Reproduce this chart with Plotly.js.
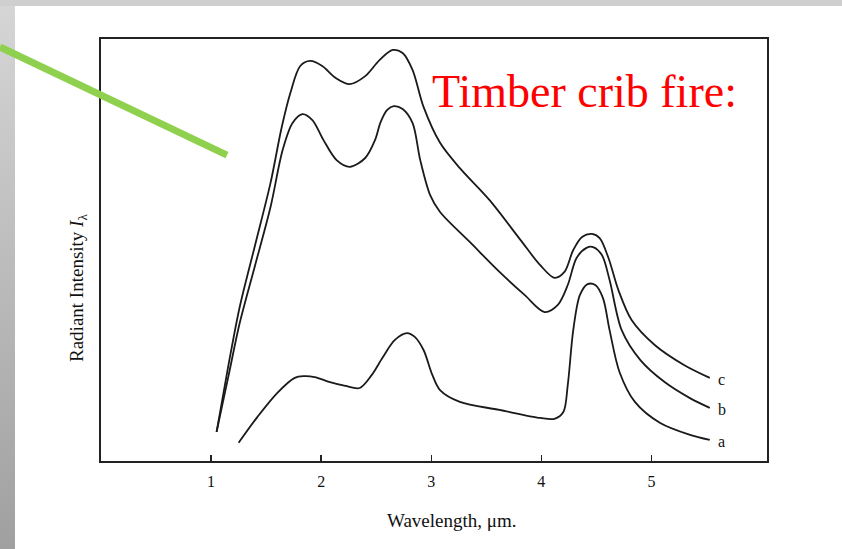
<!DOCTYPE html>
<html>
<head>
<meta charset="utf-8">
<script src="https://cdn.plot.ly/plotly-3.0.1.min.js"></script>
<style>
  html, body { margin: 0; padding: 0; background: #ffffff; }
  #wrap { position: relative; width: 842px; height: 549px; background: #ffffff; overflow: hidden; }
  #leftbar { position: absolute; left: 0; top: 0; width: 15px; height: 549px;
             background: linear-gradient(to bottom, #d6d6d6, #a0a0a0); }
  #topbar { position: absolute; left: 0; top: 0; width: 842px; height: 6px; background: #cfcfcf; }
  #chart { position: absolute; left: 0; top: 0; width: 842px; height: 549px; }
</style>
</head>
<body>
<div id="wrap">
  <div id="leftbar"></div>
  <div id="topbar"></div>
  <div id="chart"></div>
</div>
<script>
// Wavelength (µm) and relative radiant intensity
const cWave = [1.05,1.15,1.26,1.40,1.54,1.64,1.72,1.81,1.90,2.01,2.13,2.26,2.40,2.53,2.65,2.74,2.83,2.93,3.08,3.26,3.53,3.81,3.99,4.12,4.21,4.29,4.37,4.46,4.53,4.61,4.70,4.82,5.03,5.30,5.53];
const cInt  = [6.9,21.6,36.5,51.2,65.9,78.9,87.2,93.6,94.8,93.6,90.8,89.3,91.2,95.0,97.4,96.7,92.7,83.9,75.4,69.4,61.8,52.4,46.4,43.4,44.8,50.0,53.1,53.8,52.8,48.1,40.5,33.4,27.5,22.7,19.7];

const bWave = [1.05,1.16,1.26,1.40,1.54,1.65,1.74,1.83,1.92,2.02,2.14,2.26,2.40,2.49,2.54,2.60,2.66,2.74,2.83,2.90,2.99,3.08,3.35,3.62,3.85,4.03,4.15,4.24,4.32,4.41,4.47,4.55,4.62,4.73,4.90,5.12,5.35,5.53];
const bInt  = [6.9,20.4,32.7,46.4,60.2,73.7,80.1,82.2,80.8,76.1,71.3,69.7,71.8,76.1,80.3,83.2,84.1,83.4,80.1,71.3,63.0,59.0,51.9,44.8,39.3,35.3,37.0,41.7,48.1,50.5,50.7,48.8,42.9,31.0,23.9,18.7,14.9,12.6];

const aWave = [1.25,1.42,1.60,1.76,1.84,1.94,2.08,2.22,2.35,2.46,2.56,2.67,2.78,2.85,2.93,3.01,3.08,3.26,3.62,3.99,4.12,4.20,4.24,4.29,4.35,4.42,4.49,4.56,4.62,4.71,4.85,5.08,5.35,5.53];
const aInt  = [4.3,10.4,16.1,19.7,20.1,19.9,18.7,17.8,17.3,20.4,24.6,28.7,30.3,29.4,26.3,20.4,16.8,14.0,12.1,10.2,10.0,11.6,18.0,31.0,39.3,41.9,41.7,38.6,31.0,21.1,14.0,9.0,6.2,5.0];

const curveLabels = ['c','b','a'];
const xTickVals = [1,2,3,4,5];
const xTickText = ['1','2','3','4','5'];

const serif = '"Liberation Serif", "Times New Roman", serif';
const lineStyle = {color: '#1a1a1a', width: 1.8, shape: 'spline', smoothing: 0.9};

const series = [[cWave,cInt],[bWave,bInt],[aWave,aInt]];
const traces = series.map((s, i) => ({
  x: s[0], y: s[1], type: 'scatter', mode: 'lines', line: lineStyle,
  name: curveLabels[i], showlegend: false, hoverinfo: 'skip'
}));

const labelAnn = series.map((s, i) => ({
  x: s[0][s[0].length-1], y: s[1][s[1].length-1], xref: 'x', yref: 'y',
  text: curveLabels[i], showarrow: false, xanchor: 'left', yanchor: 'middle', xshift: 6, yshift: -2,
  font: {family: serif, size: 16, color: '#111'}
}));

const layout = {
  width: 842, height: 549,
  margin: {l: 101, r: 75, t: 39, b: 88},
  paper_bgcolor: 'rgba(0,0,0,0)', plot_bgcolor: 'rgba(0,0,0,0)',
  xaxis: {
    range: [0, 6.05], showgrid: false, zeroline: false,
    showline: true, mirror: true, linecolor: '#222', linewidth: 2,
    tickmode: 'array', tickvals: xTickVals, ticktext: xTickText,
    ticks: 'inside', ticklen: 6, tickcolor: '#222', tickwidth: 1.5,
    ticklabelstandoff: 5,
    tickfont: {family: serif, size: 16, color: '#111'}
  },
  yaxis: {
    range: [0, 100], showgrid: false, zeroline: false,
    showline: true, mirror: true, linecolor: '#222', linewidth: 2,
    showticklabels: false, ticks: ''
  },
  shapes: [{
    type: 'line', xref: 'paper', yref: 'paper',
    x0: -0.1517, y0: 0.981, x1: 0.1892, y1: 0.725,
    line: {color: '#8fd14f', width: 7}
  }],
  annotations: labelAnn.concat([
    {xref: 'paper', yref: 'paper', x: 0.494, y: 0.875, xanchor: 'left', yanchor: 'middle',
     text: 'Timber crib fire:', showarrow: false,
     font: {family: serif, size: 46, color: '#ff0000'}},
    {xref: 'paper', yref: 'paper', x: 0.526, y: -0.14, xanchor: 'center', yanchor: 'middle',
     text: 'Wavelength, μm.', showarrow: false,
     font: {family: serif, size: 19, color: '#111'}},
    {xref: 'paper', yref: 'paper', x: -0.0345, y: 0.41, xanchor: 'center', yanchor: 'middle',
     text: 'Radiant Intensity <i>I</i><sub>λ</sub>', textangle: -90, showarrow: false,
     font: {family: serif, size: 19, color: '#111'}}
  ])
};

Plotly.newPlot('chart', traces, layout, {staticPlot: true, displayModeBar: false});
</script>
</body>
</html>
